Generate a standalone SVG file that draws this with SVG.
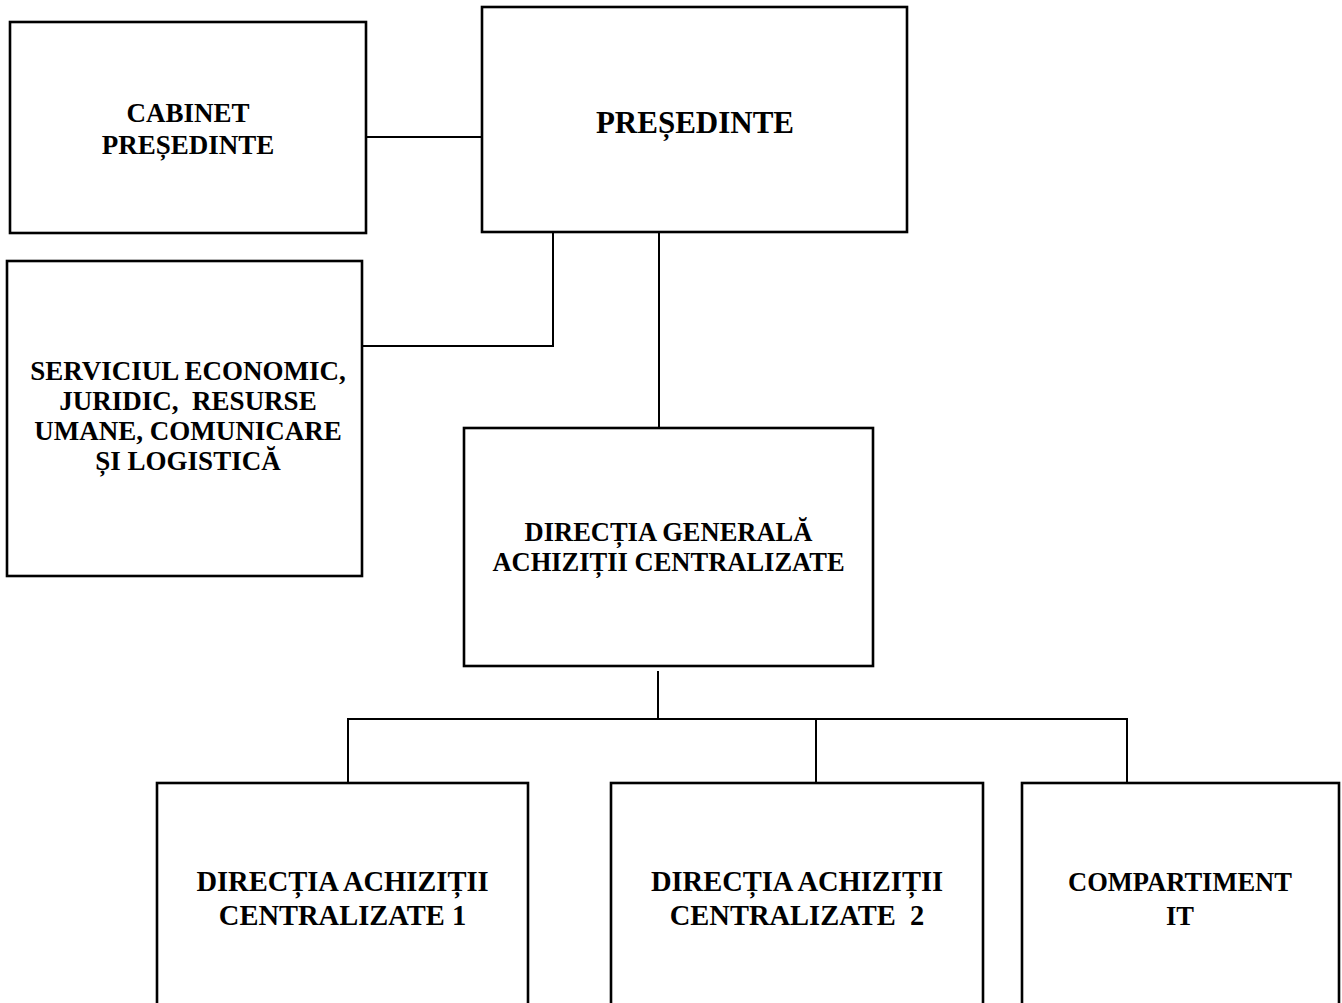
<svg xmlns="http://www.w3.org/2000/svg" width="1342" height="1003" viewBox="0 0 1342 1003">
<style>
  .box { fill: #ffffff; stroke: #000000; stroke-width: 2.6; }
  .conn { fill: none; stroke: #000000; stroke-width: 2; }
  text { font-family: "Liberation Serif", "Times New Roman", serif; font-weight: bold; fill: #000000; text-anchor: middle; white-space: pre; }
  .t27 { font-size: 27px; }
  .t26 { font-size: 26.5px; }
  .t28 { font-size: 28.5px; }
  .t31 { font-size: 31px; }
</style>
<rect width="1342" height="1003" fill="#ffffff"/>
<g id="connectors">
  <line class="conn" x1="366" y1="137" x2="482" y2="137"/>
  <polyline class="conn" points="553,232 553,346 362,346"/>
  <line class="conn" x1="659" y1="232" x2="659" y2="428"/>
  <line class="conn" x1="658" y1="671" x2="658" y2="719"/>
  <line class="conn" x1="347" y1="719" x2="1128" y2="719"/>
  <line class="conn" x1="348" y1="719" x2="348" y2="783"/>
  <line class="conn" x1="816" y1="719" x2="816" y2="783"/>
  <line class="conn" x1="1127" y1="719" x2="1127" y2="783"/>
</g>
<g id="cabinet">
  <rect class="box" x="10" y="22" width="356" height="211"/>
  <text class="t27" x="188" y="121.5">CABINET</text>
  <text class="t27" x="188" y="154">PREȘEDINTE</text>
</g>
<g id="presedinte">
  <rect class="box" x="482" y="7" width="425" height="225"/>
  <text class="t31" x="695" y="132.5">PREȘEDINTE</text>
</g>
<g id="serviciul">
  <rect class="box" x="7" y="261" width="355" height="315"/>
  <text class="t27" x="188" y="380">SERVICIUL ECONOMIC,</text>
  <text class="t27" x="188" y="410">JURIDIC,  RESURSE</text>
  <text class="t27" x="188" y="440">UMANE, COMUNICARE</text>
  <text class="t27" x="188" y="470">ȘI LOGISTICĂ</text>
</g>
<g id="directia-generala">
  <rect class="box" x="464" y="428" width="409" height="238"/>
  <text class="t26" x="668.5" y="541">DIRECȚIA GENERALĂ</text>
  <text class="t26" x="668.5" y="571">ACHIZIȚII CENTRALIZATE</text>
</g>
<g id="directia-1">
  <rect class="box" x="157" y="783" width="371" height="240"/>
  <text class="t28" x="342.5" y="891">DIRECȚIA ACHIZIȚII</text>
  <text class="t28" x="342.5" y="925">CENTRALIZATE 1</text>
</g>
<g id="directia-2">
  <rect class="box" x="611" y="783" width="372" height="240"/>
  <text class="t28" x="797" y="891">DIRECȚIA ACHIZIȚII</text>
  <text class="t28" x="797" y="925">CENTRALIZATE  2</text>
</g>
<g id="compartiment-it">
  <rect class="box" x="1022" y="783" width="317" height="240"/>
  <text class="t26" x="1180" y="891">COMPARTIMENT</text>
  <text class="t26" x="1180" y="925">IT</text>
</g>
</svg>
